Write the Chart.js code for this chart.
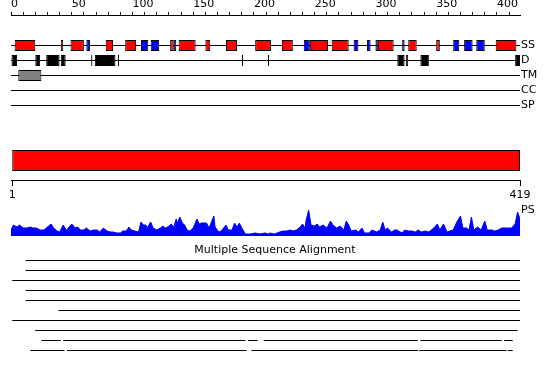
<!DOCTYPE html>
<html><head><meta charset="utf-8">
<script src="https://cdn.jsdelivr.net/npm/chart.js@4/dist/chart.umd.min.js"></script>
<style>html,body{margin:0;padding:0;background:#fff;}#wrap{width:550px;height:380px;}</style>
</head><body><div id="wrap"><canvas id="c" width="550" height="380"></canvas></div>
<script>
// ---------------- data ----------------
const seqLength = 419;
const trackNames = ['SS', 'D', 'TM', 'CC', 'SP'];
const profileName = 'PS';
const helices = [[3,20],[41,43],[49,60],[78,84],[94,103],[131,134],[138,152],[160,164],[177,186],[201,214],[223,232],[246,261],[264,278],[302,315],[327,334],[350,353],[399,416]];
const strands = [[62,65],[107,113],[115,122],[134,136],[241,246],[282,286],[293,296],[300,302],[322,324],[364,369],[373,380],[383,390]];
const disorder = [[0,5],[20,24],[29,40],[41,45],[66,67],[69,86],[88,89],[190,191],[211.5,212.5],[318,324],[325,327],[337,344],[415,419]];
const transmembrane = [[6,25]];
const coiledCoil = [];
const signalPeptide = [];
const domainRange = [1, 419];
const seqTicks = [1, 419];
const psPos = [0,2,5,7,10,13,16,18,21,24,27,29,33,35,38,40,43,46,47,50,53,55,57,60,62,65,68,71,73,76,79,82,84,87,90,92,95,97,99,102,105,
  107,109,111,112,115,117,120,123,125,127,129,132,134,136,137,139,141,143,145,147,150,153,155,157,159,161,163,165,167,168,171,173,177,179,182,184,186,188,190,193,197,201,205,209,212,
  213,217,221,224,227,230,232,235,238,240,242,243,245,247,250,252,254,257,260,263,265,268,271,274,276,278,280,284,286,289,291,295,297,301,304,306,308,310,313,316,318,
  319,322,324,327,330,333,335,338,341,344,346,348,351,353,356,359,361,364,367,370,372,375,377,379,381,384,387,390,392,396,398,401,404,407,409,412,415,417,419];
const psVal = [6,11,9,11,8,8,9,8,8,6,6,8,12,8,5,4,11,5,8,12,8,9,6,6,8,5,6,6,4,8,5,4,4,3,3,5,5,9,6,5,4,
  14,11,11,8,14,8,6,8,10,8,9,12,9,17,13,19,13,11,6,5,8,17,12,13,13,13,8,14,20,9,4,5,11,6,6,13,9,13,8,2,2,3,2,3,2,
  3,2,4,5,5,6,5,6,9,12,8,16,26,11,10,12,9,11,8,15,11,8,10,6,15,11,5,6,4,8,3,3,6,4,6,14,6,8,4,6,6,
  5,3,6,5,5,4,6,4,5,4,6,8,12,6,12,4,5,6,14,20,8,8,6,19,6,9,6,15,6,6,5,6,8,8,8,8,12,24,17];
const msaTitle = 'Multiple Sequence Alignment';
const msaRows = [
  [[12,419]],
  [[12,419]],
  [[1,419]],
  [[12,419]],
  [[12,419]],
  [[39,419]],
  [[1,419]],
  [[20,417]],
  [[25,41],[43,193],[195,203],[208,335],[337,404],[406,413]],
  [[16,44],[46,194],[198,335],[336,408],[409,413]]
];

// ---------------- layout & style ----------------
const RED = '#ff0000', BLUE = '#0000ff', GRAY = '#808080', BLACK = '#000000';
const trackY = [45.5, 60.5, 75.5, 90.5, 105.5];
const psLabelY = 210;
const domainY = 160.5;
const seqAxisY = 180.5;
const msaTitleY = 250.5;
const msaY0 = 260.5, msaStep = 10;
const FONT = {family: 'DejaVu Sans', size: 11};
Chart.defaults.font.family = 'DejaVu Sans';
Chart.defaults.color = BLACK;

const featureBars = [];
helices.forEach(r => featureBars.push({x: r, y: trackY[0], c: RED}));
strands.forEach(r => featureBars.push({x: r, y: trackY[0], c: BLUE}));
disorder.forEach(r => featureBars.push({x: r, y: trackY[1], c: BLACK}));
transmembrane.forEach(r => featureBars.push({x: r, y: trackY[2], c: GRAY}));
coiledCoil.forEach(r => featureBars.push({x: r, y: trackY[3], c: GRAY}));
signalPeptide.forEach(r => featureBars.push({x: r, y: trackY[4], c: GRAY}));

const lineBase = {type: 'line', indexAxis: 'x', borderColor: BLACK, borderWidth: 1, pointRadius: 0, fill: false, order: 2, tension: 0};
const datasets = [];
datasets.push({
  type: 'bar', indexAxis: 'y', label: 'features', data: featureBars, stack: 's', order: 0,
  backgroundColor: ctx => (ctx.raw && ctx.raw.c) || RED,
  borderColor: BLACK, borderWidth: 1, borderSkipped: false, barThickness: 11, inflateAmount: 0
});
datasets.push({
  type: 'bar', indexAxis: 'y', label: 'domain', data: [{x: domainRange, y: domainY}], stack: 's', order: 0,
  backgroundColor: RED, borderColor: BLACK, borderWidth: 1, borderSkipped: false, barThickness: 21, inflateAmount: 0
});
trackY.forEach((ty, i) => datasets.push(Object.assign({}, lineBase, {label: trackNames[i], data: [{x: 0, y: ty}, {x: seqLength, y: ty}]})));
datasets.push({
  type: 'line', indexAxis: 'x', label: profileName, yAxisID: 'yPS', order: 1,
  data: psPos.map((p, i) => ({x: p, y: psVal[i]})),
  borderColor: BLUE, backgroundColor: BLUE, borderWidth: 1, pointRadius: 0, fill: {value: 0}, tension: 0
});
msaRows.forEach((segs, r) => {
  const yv = msaY0 + r * msaStep;
  const pts = [];
  segs.forEach((s, k) => {
    if (k > 0) pts.push({x: (segs[k - 1][1] + s[0]) / 2, y: null});
    pts.push({x: s[0], y: yv}, {x: s[1], y: yv});
  });
  datasets.push(Object.assign({}, lineBase, {label: 'msa' + r, data: pts, spanGaps: false}));
});

const rightLabels = trackNames.concat([profileName]);
const rightLabelY = trackY.concat([psLabelY]);

const titlePlugin = {
  id: 'msaTitle',
  afterDatasetsDraw(chart) {
    const ctx = chart.ctx;
    ctx.save();
    ctx.font = '11px "DejaVu Sans"';
    ctx.fillStyle = BLACK;
    ctx.textAlign = 'center';
    ctx.textBaseline = 'middle';
    ctx.fillText(msaTitle, chart.width / 2, chart.scales.y.getPixelForValue(msaTitleY));
    ctx.restore();
  }
};

new Chart(document.getElementById('c'), {
  type: 'bar',
  data: {datasets},
  plugins: [titlePlugin],
  options: {
    responsive: false, animation: false, devicePixelRatio: 1, events: [],
    layout: {padding: {left: 11, right: 0, top: 0, bottom: 0}},
    plugins: {legend: {display: false}, tooltip: {enabled: false}, title: {display: false}},
    scales: {
      x: {
        type: 'linear', axis: 'x', position: 'top', min: 0, max: seqLength, stacked: false, offset: false,
        ticks: {stepSize: 10, includeBounds: false, align: 'start', autoSkip: false, maxRotation: 0, minRotation: 0,
          padding: 1, color: BLACK, font: FONT, callback: v => (v % 50 === 0 ? String(v) : '')},
        grid: {drawOnChartArea: false, tickLength: 3, color: BLACK, offset: false},
        border: {color: BLACK, width: 1},
        afterFit: s => { s.height = 15; s.paddingLeft = 0; s.paddingRight = 0; }
      },
      x2: {
        type: 'linear', axis: 'x', position: {y: seqAxisY}, min: 0, max: seqLength, stacked: false, offset: false,
        afterBuildTicks: s => { s.ticks = seqTicks.map(v => ({value: v})); },
        ticks: {autoSkip: false, maxRotation: 0, minRotation: 0, padding: 3, color: BLACK, font: FONT},
        grid: {drawOnChartArea: false, tickLength: 5, color: BLACK, offset: false},
        border: {color: BLACK, width: 1},
        afterFit: s => { s.paddingLeft = 0; s.paddingRight = 0; }
      },
      y: {
        type: 'linear', axis: 'y', position: 'right', min: 15, max: 380, reverse: true, offset: false,
        afterBuildTicks: s => { s.ticks = rightLabelY.map(v => ({value: v})); },
        ticks: {autoSkip: false, padding: 1, color: BLACK, font: FONT, callback: (v, i) => rightLabels[i]},
        grid: {display: false, drawTicks: false, offset: false},
        border: {display: false},
        afterFit: s => { s.width = 30; s.paddingTop = 0; s.paddingBottom = 0; }
      },
      yPS: {type: 'linear', axis: 'y', display: false, min: -144, max: 221, offset: false}
    }
  }
});
</script>
</body></html>
